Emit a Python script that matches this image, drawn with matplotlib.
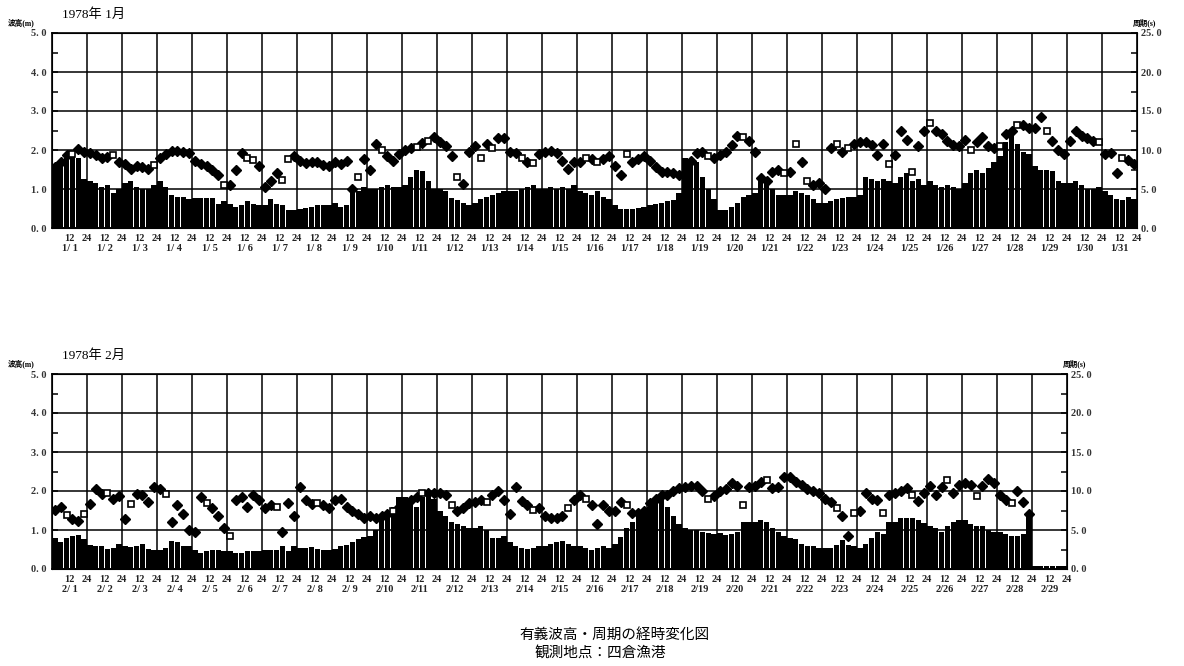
import numpy as np
import matplotlib
matplotlib.use("Agg")
import matplotlib.pyplot as plt
from matplotlib.ticker import MultipleLocator

plt.rcParams['font.family'] = ['Liberation Serif', 'Noto Sans CJK JP']

# 4-hourly values, 6 per day (hours 0-4, 4-8, ... 20-24)
# significant wave height (m), January 1978
jan_height = [
    1.6, 1.7, 1.85, 1.85, 1.8, 1.25,
    1.2, 1.15, 1.05, 1.1, 0.9, 1.0,
    1.15, 1.2, 1.05, 1.0, 1.0, 1.1,
    1.2, 1.05, 0.85, 0.8, 0.8, 0.75,
    0.78, 0.77, 0.76, 0.77, 0.62, 0.7,
    0.62, 0.55, 0.6, 0.7, 0.62, 0.6,
    0.6, 0.75, 0.62, 0.6, 0.45, 0.45,
    0.5, 0.52, 0.55, 0.58, 0.6, 0.6,
    0.65, 0.55, 0.6, 0.9, 0.95, 1.05,
    1.0, 1.0, 1.05, 1.1, 1.05, 1.05,
    1.1, 1.3, 1.5, 1.45, 1.2, 1.0,
    1.0, 0.95, 0.78, 0.72, 0.65, 0.6,
    0.65, 0.75, 0.8, 0.85, 0.9, 0.95,
    0.95, 0.95, 1.0, 1.05, 1.1, 1.0,
    1.0, 1.05, 1.0, 1.05, 1.0, 1.1,
    0.95, 0.9, 0.85, 0.95, 0.8, 0.75,
    0.6, 0.5, 0.5, 0.5, 0.52, 0.55,
    0.6, 0.62, 0.65, 0.68, 0.72, 0.9,
    1.8, 1.65, 1.7, 1.3, 1.0, 0.75,
    0.45, 0.45, 0.55, 0.65, 0.8, 0.85,
    0.9, 1.25, 1.15, 1.0, 0.85, 0.85,
    0.85, 0.95, 0.9, 0.85, 0.75, 0.65,
    0.65, 0.7, 0.75, 0.78, 0.8, 0.8,
    0.85, 1.3, 1.25, 1.2, 1.25, 1.2,
    1.15, 1.3, 1.4, 1.2, 1.25, 1.1,
    1.2, 1.1, 1.05, 1.1, 1.05, 1.0,
    1.15, 1.4, 1.5, 1.4, 1.55, 1.7,
    1.85, 2.2, 2.4, 2.15, 1.95, 1.9,
    1.6, 1.5, 1.5, 1.45, 1.2, 1.15,
    1.15, 1.2, 1.1, 1.0, 1.0, 1.05,
    0.95, 0.85, 0.75, 0.72, 0.8, 0.75,
]

# significant wave period (s), January 1978
jan_period = [
    7.8, 8.5, 9.3, 9.5, 10.1, 9.7,
    9.6, 9.4, 9.0, 9.1, 9.3, 8.4,
    8.2, 7.6, 7.9, 7.8, 7.6, 8.1,
    9.0, 9.5, 9.9, 9.9, 9.8, 9.6,
    8.6, 8.2, 8.0, 7.5, 6.8, 5.5,
    5.5, 7.5, 9.6, 9.0, 8.7, 8.0,
    5.2, 6.0, 7.0, 6.2, 8.8, 9.2,
    8.6, 8.3, 8.4, 8.5, 8.1, 8.0,
    8.5, 8.2, 8.6, 5.0, 6.5, 8.8,
    7.5, 10.8, 10.0, 9.2, 8.6, 9.5,
    10.0, 10.2, 10.4, 10.9, 11.2, 11.7,
    11.0, 10.5, 9.2, 6.6, 5.6, 9.8,
    10.5, 9.0, 10.8, 10.2, 11.5, 11.6,
    9.8, 9.6, 9.0, 8.5, 8.3, 9.5,
    9.8, 9.9, 9.6, 8.6, 7.6, 8.5,
    8.5, 9.0, 8.8, 8.5, 8.8, 9.2,
    8.0, 6.8, 9.5, 8.5, 8.9, 9.2,
    8.6, 7.8, 7.2, 7.2, 7.0, 6.8,
    7.0, 8.6, 9.6, 9.8, 9.2, 9.0,
    9.3, 9.8, 10.6, 11.8, 11.7, 11.2,
    9.8, 6.4, 6.0, 7.2, 7.5, 7.0,
    7.2, 10.8, 8.5, 6.0, 5.5, 5.8,
    5.0, 10.2, 10.8, 9.8, 10.2, 10.8,
    11.0, 11.0, 10.6, 9.4, 10.8, 8.2,
    9.4, 12.5, 11.3, 7.2, 10.5, 12.5,
    13.5, 12.5, 12.0, 11.2, 10.6, 10.5,
    11.3, 10.0, 11.0, 11.7, 10.5, 10.2,
    10.5, 12.0, 12.5, 13.2, 13.2, 12.8,
    12.8, 14.2, 12.5, 11.2, 10.0, 9.5,
    11.2, 12.5, 11.8, 11.5, 11.2, 11.0,
    9.5, 9.6, 7.0, 9.0, 8.7, 8.2,
]

# (day, slot) of open-square period marks
jan_open = [(1, 3), (2, 4), (3, 5), (5, 5), (6, 3), (6, 4), (7, 3), (7, 4),
            (9, 4), (10, 2), (11, 2), (11, 4), (12, 3), (13, 1), (13, 3),
            (14, 2), (14, 4), (16, 1), (16, 3), (17, 2), (19, 4), (20, 4),
            (21, 5), (22, 1), (22, 3), (23, 2), (23, 4), (24, 5), (25, 3),
            (26, 0), (27, 1), (28, 0), (28, 3), (29, 2), (30, 5), (31, 3)]

# significant wave height (m), February 1978 (2/29 is a dummy day)
feb_height = [
    0.8, 0.68, 0.8, 0.85, 0.88, 0.78,
    0.62, 0.6, 0.58, 0.52, 0.55, 0.65,
    0.6, 0.57, 0.6, 0.65, 0.52, 0.5,
    0.5, 0.55, 0.72, 0.68, 0.6, 0.58,
    0.5, 0.42, 0.45, 0.5, 0.5, 0.45,
    0.45, 0.4, 0.4, 0.45, 0.45, 0.45,
    0.5, 0.48, 0.5, 0.58, 0.45, 0.6,
    0.55, 0.55, 0.56, 0.52, 0.5, 0.5,
    0.52, 0.6, 0.62, 0.7, 0.78, 0.82,
    0.85, 1.0, 1.25, 1.4, 1.6, 1.85,
    1.85, 1.75, 1.6, 1.85, 1.9, 1.8,
    1.5, 1.35, 1.2, 1.15, 1.1, 1.05,
    1.05, 1.1, 1.0, 0.8, 0.8, 0.85,
    0.7, 0.6, 0.55, 0.52, 0.55, 0.58,
    0.6, 0.65, 0.7, 0.72, 0.65, 0.6,
    0.6, 0.55, 0.5, 0.55, 0.58, 0.55,
    0.65, 0.82, 1.05, 1.2, 1.35, 1.45,
    1.6, 1.8, 1.78, 1.6, 1.35, 1.15,
    1.05, 1.0, 1.0, 0.95, 0.92, 0.9,
    0.92, 0.88, 0.9, 0.95, 1.2, 1.2,
    1.2, 1.25, 1.2, 1.05, 0.95, 0.85,
    0.8, 0.78, 0.65, 0.6, 0.6, 0.55,
    0.55, 0.55, 0.62, 0.75, 0.62, 0.6,
    0.55, 0.65, 0.8, 0.95, 0.9, 1.2,
    1.2, 1.3, 1.32, 1.32, 1.25, 1.18,
    1.1, 1.05, 0.95, 1.1, 1.2, 1.25,
    1.25, 1.15, 1.1, 1.1, 1.0, 0.95,
    0.95, 0.9, 0.85, 0.85, 0.9, 1.35,
    0.08, 0.08, 0.08, 0.08, 0.08, 0.08,
]

# significant wave period (s), February 1978
feb_period = [
    7.6, 7.9, 6.9, 6.4, 6.2, 7.0,
    8.3, 10.2, 9.6, 9.7, 9.0, 9.3,
    6.4, 8.3, 9.6, 9.5, 8.6, 10.5,
    10.3, 9.6, 6.0, 8.2, 7.0, 5.0,
    4.8, 9.2, 8.5, 7.8, 6.8, 5.2,
    4.2, 8.8, 9.2, 8.0, 9.5, 8.8,
    7.8, 8.2, 8.0, 4.8, 8.4, 6.8,
    10.5, 8.8, 8.3, 8.5, 8.2, 7.8,
    8.8, 9.0, 8.0, 7.4, 7.0, 6.5,
    6.8, 6.5, 6.8, 7.0, 7.5, 8.0,
    8.5, 8.8, 9.2, 9.7, 9.7, 9.7,
    9.8, 9.5, 8.2, 7.4, 7.8, 8.5,
    8.6, 8.8, 8.6, 9.5, 10.0, 8.8,
    7.0, 10.5, 8.7, 8.2, 7.6, 7.8,
    6.8, 6.5, 6.5, 6.8, 7.8, 8.8,
    9.5, 9.0, 8.2, 5.8, 8.2, 7.4,
    7.4, 8.6, 8.2, 7.2, 7.2, 7.5,
    8.5, 9.0, 9.5, 9.5, 10.0, 10.4,
    10.5, 10.6, 10.6, 10.0, 9.0, 9.4,
    10.0, 10.2, 11.0, 10.6, 8.2, 10.5,
    10.6, 11.2, 11.4, 10.4, 10.5, 11.8,
    11.8, 11.2, 10.8, 10.2, 10.0, 9.8,
    9.0, 8.6, 7.8, 6.8, 4.2, 7.2,
    7.5, 9.8, 9.0, 8.8, 7.2, 9.5,
    9.8, 10.0, 10.4, 9.5, 8.7, 9.8,
    10.6, 9.5, 10.5, 11.4, 9.8, 10.8,
    11.0, 10.8, 9.3, 10.6, 11.6, 11.0,
    9.5, 8.8, 8.5, 10.0, 8.6, 7.0,
]

feb_open = [(1, 2), (1, 5), (2, 3), (3, 1), (4, 1), (5, 2), (6, 0), (7, 2),
            (8, 3), (10, 4), (11, 3), (12, 2), (13, 2), (14, 4), (15, 4),
            (16, 1), (17, 2), (19, 4), (20, 4), (21, 2), (23, 2), (23, 5),
            (24, 4), (25, 3), (26, 3), (27, 2), (28, 2)]

left_ticks = ['0. 0', '1. 0', '2. 0', '3. 0', '4. 0', '5. 0']
right_ticks = ['0. 0', '5. 0', '10. 0', '15. 0', '20. 0', '25. 0']

W, H = 1184, 666
fig = plt.figure(figsize=(W / 100, H / 100), dpi=100)


def draw_panel(top_px, right_px, month, ndays, height, period, open_pts):
    rect = [52 / W, 1 - (top_px + 195) / H, (right_px - 52) / W, 195 / H]
    ax = fig.add_axes(rect)
    t_h = np.arange(len(height)) * 4 + 2
    ax.bar(t_h, height, width=3.6, color='black', linewidth=0, zorder=2)
    ax.set_xlim(0, ndays * 24)
    ax.set_ylim(0, 5)
    ax.set_xticks(np.arange(24, ndays * 24, 24))
    ax.set_xticklabels([])
    ax.tick_params(axis='x', length=0)
    ax.set_yticks(np.arange(0, 6, 1))
    ax.set_yticklabels(left_ticks, fontsize=7.5, fontweight='bold', color='#333333')
    ax.yaxis.set_minor_locator(MultipleLocator(0.5))
    ax.tick_params(axis='y', which='both', direction='in', length=4, width=1.1, pad=4)
    ax.grid(True, which='major', color='black', linewidth=1.1, zorder=3)
    ax.set_axisbelow(False)
    for s in ax.spines.values():
        s.set_linewidth(1.2)

    ax2 = ax.twinx()
    ax2.set_ylim(0, 25)
    ax2.set_yticks(np.arange(0, 30, 5))
    ax2.set_yticklabels(right_ticks, fontsize=7.5, fontweight='bold', color='#333333')
    ax2.yaxis.set_minor_locator(MultipleLocator(2.5))
    ax2.tick_params(axis='y', which='both', direction='in', length=4, width=1.1, pad=3)

    t_p = np.arange(len(period)) * 4 + 2
    per = np.array(period, dtype=float)
    is_open = np.zeros(len(per), dtype=bool)
    for d, s in open_pts:
        is_open[(d - 1) * 6 + s] = True
    ax2.plot(t_p[~is_open], per[~is_open], linestyle='none', marker='D',
             markersize=4.8, color='black')
    ax2.plot(t_p[is_open], per[is_open], linestyle='none', marker='s',
             markersize=4.2, markerfacecolor='white', markeredgecolor='black',
             markeredgewidth=1.2)

    tr = ax.get_xaxis_transform()
    for d in range(ndays):
        ax.text(d * 24 + 12, -10 / 195, '12', transform=tr, ha='center', va='center',
                fontsize=7.5, fontweight='bold', color='#222222')
        ax.text(d * 24 + 24, -10 / 195, '24', transform=tr, ha='center', va='center',
                fontsize=7.5, fontweight='bold', color='#222222')
        ax.text(d * 24 + 12, -20 / 195, '%d/%2d' % (month, d + 1), transform=tr,
                ha='center', va='center', fontsize=7.5, fontweight='bold', color='#222222')

    fig.text(62 / W, 1 - (top_px - 18) / H, '1978年 %d月' % month, fontsize=9.5,
             ha='left', va='center')
    fig.text(8 / W, 1 - (top_px - 10) / H, '波高(m)', fontsize=5.5, fontweight='bold',
             ha='left', va='center')
    fig.text((right_px - 4) / W, 1 - (top_px - 10) / H, '周期(s)', fontsize=5.5,
             fontweight='bold', ha='left', va='center')
    return ax


draw_panel(33, 1137, 1, 31, jan_height, jan_period, jan_open)
draw_panel(374, 1067, 2, 29, feb_height, feb_period, feb_open)

fig.text(615 / W, 1 - 635 / H, '有義波高・周期の経時変化図', fontsize=10.5,
         ha='center', va='center')
fig.text(600 / W, 1 - 653 / H, '観測地点：四倉漁港', fontsize=10.5,
         ha='center', va='center')

fig.savefig('out.png', dpi=100)
